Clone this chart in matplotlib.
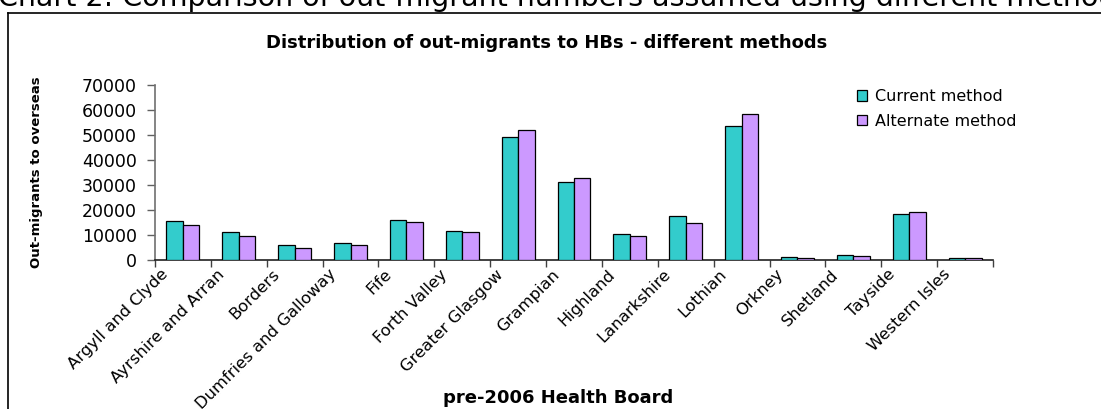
import matplotlib
matplotlib.use("Agg")
import matplotlib.pyplot as plt
import matplotlib.transforms as mtransforms
from matplotlib.lines import Line2D
from matplotlib.patches import Patch
import numpy as np

# Out-migrants to overseas by pre-2006 Health Board
boards = [
    "Argyll and Clyde", "Ayrshire and Arran", "Borders", "Dumfries and Galloway",
    "Fife", "Forth Valley", "Greater Glasgow", "Grampian", "Highland",
    "Lanarkshire", "Lothian", "Orkney", "Shetland", "Tayside", "Western Isles",
]
current_method = [15600, 11200, 6000, 6900, 16000, 11600, 49300, 31200, 10400,
                  17500, 53700, 1400, 2000, 18400, 1000]
alternate_method = [14000, 9600, 5000, 6000, 15200, 11200, 52000, 32900, 9600,
                    14800, 58300, 1000, 1500, 19200, 1000]
y_ticks = [0, 10000, 20000, 30000, 40000, 50000, 60000, 70000]

W, H = 1101, 409
fig = plt.figure(figsize=(W / 100, H / 100), dpi=100)
fig.patch.set_facecolor("white")
plt.rcParams["font.family"] = ["DejaVu Sans"]

# page heading, running off the top edge
fig.text(-0.002, 1 - 6 / H,
         "Chart 2: Comparison of out-migrant numbers assumed using different methods",
         fontsize=20.5, ha="left", va="baseline", color="black")

# chart border (continues past the right and bottom edges)
x0, ytop = 8 / W, 1 - 13 / H
fig.add_artist(Line2D([x0, x0], [-0.1, ytop], transform=fig.transFigure,
                      color="black", lw=1.2, clip_on=False))
fig.add_artist(Line2D([x0, 1.1], [ytop, ytop], transform=fig.transFigure,
                      color="black", lw=1.2, clip_on=False))

ax_left, ax_right = 155 / W, 993 / W
ax_bottom, ax_top = 1 - 260 / H, 1 - 85 / H
ax = fig.add_axes([ax_left, ax_bottom, ax_right - ax_left, ax_top - ax_bottom])

n = len(boards)
centers = np.arange(n) + 0.5
bw = 0.295
teal, lilac = "#33CCCC", "#CC99FF"
ax.bar(centers - bw / 2, current_method, width=bw, color=teal,
       edgecolor="black", linewidth=0.9, label="Current method", zorder=3)
ax.bar(centers + bw / 2, alternate_method, width=bw, color=lilac,
       edgecolor="black", linewidth=0.9, label="Alternate method", zorder=3)

ax.set_xlim(0, n)
ax.set_ylim(0, 70000)
ax.set_yticks(y_ticks)
ax.set_yticklabels([str(v) for v in y_ticks], fontsize=12.5)
ax.tick_params(axis="y", direction="out", length=6, width=1, color="#606060", pad=7)

# category boundaries carry the tick marks, centres carry the labels
ax.set_xticks(np.arange(n + 1))
ax.set_xticklabels([])
ax.set_xticks(centers, minor=True)
ax.set_xticklabels(boards, minor=True, rotation=45, ha="right", va="center",
                   rotation_mode="anchor", fontsize=11.8)
ax.tick_params(axis="x", which="major", direction="out", length=5, width=1,
               color="#404040")
ax.tick_params(axis="x", which="minor", length=0, pad=0)
shift = mtransforms.ScaledTranslation(-17 / 100, -12 / 100, fig.dpi_scale_trans)
for lbl in ax.get_xticklabels(minor=True):
    lbl.set_transform(lbl.get_transform() + shift)

for s in ("top", "right"):
    ax.spines[s].set_visible(False)
ax.spines["left"].set_color("#707070")
ax.spines["left"].set_linewidth(1.2)
ax.spines["bottom"].set_color("#202020")
ax.spines["bottom"].set_linewidth(1.2)

fig.text(547 / W, 1 - 43 / H, "Distribution of out-migrants to HBs - different methods",
         fontsize=13, fontweight="bold", ha="center", va="center")
fig.text(37 / W, 1 - 172 / H, "Out-migrants to overseas", fontsize=9.5,
         fontweight="bold", rotation=90, ha="center", va="center")
fig.text(558 / W, 1 - 398 / H, "pre-2006 Health Board", fontsize=13,
         fontweight="bold", ha="center", va="center")

handles = [Patch(facecolor=teal, edgecolor="black", linewidth=0.9),
           Patch(facecolor=lilac, edgecolor="black", linewidth=0.9)]
fig.legend(handles, ["Current method", "Alternate method"],
           loc="upper left", bbox_to_anchor=(857 / W, 1 - 89 / H),
           frameon=False, fontsize=11.5, handlelength=0.65, handleheight=0.65,
           handletextpad=0.45, labelspacing=0.6, borderpad=0, borderaxespad=0)

fig.savefig("out.png", dpi=100, facecolor="white")
